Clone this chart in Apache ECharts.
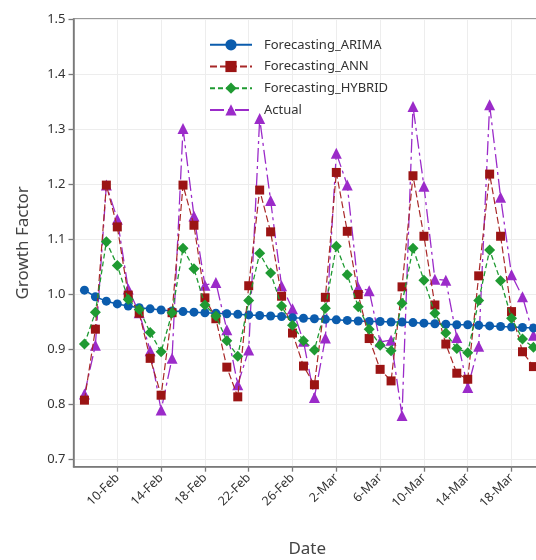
<!DOCTYPE html>
<html>
<head>
<meta charset="utf-8">
<script src="https://cdn.jsdelivr.net/npm/echarts@6/dist/echarts.min.js"></script>
<style>html,body{margin:0;padding:0;background:#fff}#c{width:536px;height:560px}</style>
</head>
<body>
<div id="c"></div>
<script>
const dates = ['7-Feb','8-Feb','9-Feb','10-Feb','11-Feb','12-Feb','13-Feb','14-Feb','15-Feb','16-Feb','17-Feb','18-Feb','19-Feb','20-Feb','21-Feb','22-Feb','23-Feb','24-Feb','25-Feb','26-Feb','27-Feb','28-Feb','1-Mar','2-Mar','3-Mar','4-Mar','5-Mar','6-Mar','7-Mar','8-Mar','9-Mar','10-Mar','11-Mar','12-Mar','13-Mar','14-Mar','15-Mar','16-Mar','17-Mar','18-Mar','19-Mar','20-Mar'];
const arima = [1.007,0.995,0.987,0.982,0.978,0.975,0.973,0.971,0.969,0.968,0.967,0.966,0.965,0.964,0.963,0.962,0.961,0.960,0.959,0.957,0.956,0.955,0.954,0.953,0.952,0.951,0.950,0.950,0.949,0.949,0.948,0.947,0.946,0.945,0.944,0.944,0.943,0.942,0.941,0.940,0.939,0.938];
const ann = [0.807,0.936,1.198,1.122,0.998,0.965,0.883,0.816,0.966,1.198,1.125,0.993,0.955,0.867,0.813,1.015,1.189,1.113,0.996,0.929,0.869,0.835,0.994,1.221,1.114,0.999,0.919,0.863,0.842,1.013,1.215,1.105,0.980,0.909,0.856,0.845,1.033,1.218,1.105,0.968,0.895,0.868];
const hybrid = [0.909,0.967,1.095,1.052,0.990,0.972,0.930,0.895,0.966,1.083,1.046,0.980,0.960,0.915,0.887,0.988,1.074,1.038,0.978,0.943,0.915,0.898,0.974,1.087,1.035,0.977,0.936,0.907,0.897,0.983,1.083,1.025,0.965,0.929,0.901,0.893,0.988,1.080,1.024,0.956,0.918,0.903];
const actual = [0.818,0.907,1.198,1.136,1.009,0.966,0.897,0.789,0.883,1.301,1.142,1.016,1.021,0.935,0.835,0.898,1.319,1.170,1.015,0.973,0.914,0.812,0.920,1.256,1.198,1.012,1.006,0.913,0.916,0.779,1.341,1.196,1.027,1.025,0.921,0.830,0.905,1.344,1.176,1.035,0.995,0.925];
const xTickLabels = ['10-Feb','14-Feb','18-Feb','22-Feb','26-Feb','2-Mar','6-Mar','10-Mar','14-Mar','18-Mar'];
const yTickLabels = ['0.7','0.8','0.9','1.0','1.1','1.2','1.3','1.4','1.5'];

const xTickValues = xTickLabels.map(l => dates.indexOf(l));
const yTickValues = yTickLabels.map(Number);
const pts = arr => arr.map((v, i) => [i, v]);

const FONT = 'Noto Sans';
const axisGray = '#7a7a7a';

const chart = echarts.init(document.getElementById('c'), null, {renderer: 'canvas'});
chart.setOption({
  backgroundColor: '#fff',
  animation: false,
  textStyle: {fontFamily: FONT},
  grid: {left: 73.5, right: -5, top: 19, bottom: 93.3, outerBoundsMode: 'none', containLabel: false,
    show: true, borderColor: axisGray, borderWidth: 1.3, backgroundColor: '#fff'},
  legend: {
    orient: 'vertical', left: 209, top: 38.3, padding: 0,
    itemWidth: 42, itemHeight: 14, itemGap: 8.7,
    textStyle: {fontSize: 13, color: '#333', fontFamily: FONT, padding: [0,0,0,7]},
    data: ['Forecasting_ARIMA','Forecasting_ANN','Forecasting_HYBRID','Actual']
  },
  xAxis: {
    type: 'value', min: -1, max: 41.69,
    name: 'Date', nameLocation: 'middle', nameGap: 74,
    nameTextStyle: {fontSize: 17, color: '#444', fontFamily: FONT},
    axisLine: {show: true, onZero: false, lineStyle: {color: axisGray, width: 1.5}},
    axisTick: {show: true, length: 5, lineStyle: {color: axisGray, width: 1.3}, customValues: xTickValues},
    axisLabel: {rotate: 45, fontSize: 12.5, color: '#333', margin: 9, customValues: xTickValues,
      formatter: v => dates[Math.round(v)] || ''},
    splitLine: {show: true, lineStyle: {color: '#ededed', width: 1}}
  },
  yAxis: {
    type: 'value', min: 0.686, max: 1.5,
    name: 'Growth Factor', nameLocation: 'middle', nameGap: 42,
    nameTextStyle: {fontSize: 17, color: '#444', fontFamily: FONT},
    axisLine: {show: true, onZero: false, lineStyle: {color: axisGray, width: 1.5}},
    axisTick: {show: true, length: 5, lineStyle: {color: axisGray, width: 1.3}, customValues: yTickValues},
    axisLabel: {fontSize: 13, color: '#333', margin: 8, customValues: yTickValues,
      formatter: v => v.toFixed(1)},
    splitLine: {show: true, lineStyle: {color: '#ededed', width: 1}}
  },
  series: [
    {name: 'Actual', type: 'line', data: pts(actual), symbol: 'triangle', symbolSize: 11,
      itemStyle: {color: '#9b2bc9'}, lineStyle: {color: '#9b2bc9', width: 1.3, type: [14,4,3,4]}, z: 2},
    {name: 'Forecasting_ARIMA', type: 'line', data: pts(arima), symbol: 'circle', symbolSize: 9,
      itemStyle: {color: '#0b5cad'}, lineStyle: {color: '#0b5cad', width: 1.5}, z: 3},
    {name: 'Forecasting_ANN', type: 'line', data: pts(ann), symbol: 'rect', symbolSize: 9,
      itemStyle: {color: '#9b1414'}, lineStyle: {color: '#a82828', width: 1.2, type: [7,3]}, z: 4},
    {name: 'Forecasting_HYBRID', type: 'line', data: pts(hybrid), symbol: 'diamond', symbolSize: 11,
      itemStyle: {color: '#1f9a32'}, lineStyle: {color: '#1f9a32', width: 1.3, type: [5,3]}, z: 5}
  ]
});
</script>
</body>
</html>
